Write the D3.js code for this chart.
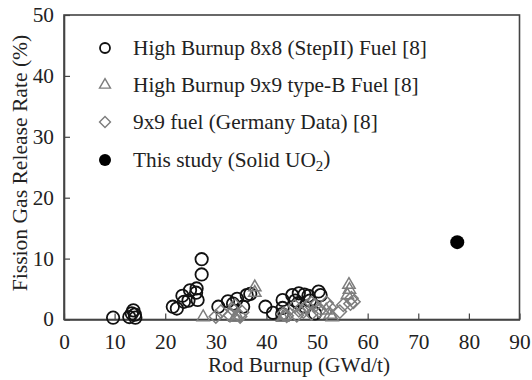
<!DOCTYPE html>
<html>
<head>
<meta charset="utf-8">
<script src="https://cdn.jsdelivr.net/npm/d3@7"></script>
<style>
  html, body { margin: 0; padding: 0; background: #fff; }
  svg { display: block; }
  text { font-family: "Liberation Serif", "Times New Roman", serif; fill: #222; }
</style>
</head>
<body>
<svg id="chart" width="532" height="380"></svg>
<script>
// Tick labels
const xTicks = [0, 10, 20, 30, 40, 50, 60, 70, 80, 90];
const yTicks = [0, 10, 20, 30, 40, 50];

// High Burnup 8x8 (StepII) Fuel [8]
const stepIIBurnup = [9.7, 12.9, 13.7, 14.0, 14.1, 13.4, 21.5, 22.3, 23.4, 23.7, 24.6, 24.9, 26.2, 26.4, 26.1, 27.2, 27.2,
  30.5, 32.4, 33.4, 34.2, 35.4, 36.1, 36.8, 39.8, 41.3, 43.2, 43.2, 43.1, 45.1, 46.4, 45.7, 47.5, 48.3, 48.6, 47.6, 46.3,
  50.3, 50.7, 49.6];
const stepIIFgr = [0.3, 0.4, 1.5, 0.8, 0.3, 1.0, 2.1, 1.8, 3.9, 2.9, 3.1, 4.8, 5.1, 3.2, 4.4, 7.4, 9.9,
  2.1, 3.0, 2.6, 3.4, 2.1, 4.0, 4.2, 2.1, 1.1, 3.2, 1.9, 0.9, 4.0, 4.3, 3.1, 4.1, 3.9, 3.1, 2.1, 2.7,
  4.6, 4.0, 1.0];

// High Burnup 9x9 type-B Fuel [8]
const typeBBurnup = [27.5, 33.8, 34.2, 37.7, 37.7, 43.2, 43.6, 51.8, 52.6, 53.0, 56.3, 56.4, 56.0];
const typeBFgr = [0.4, 0.3, 0.6, 5.3, 4.4, 0.3, 0.6, 1.5, 0.8, 0.4, 5.7, 4.9, 4.0];

// 9x9 fuel (Germany Data) [8]
const germanyBurnup = [30.0, 31.0, 32.8, 33.4, 33.8, 34.8, 35.2, 43.3, 44.0, 45.6, 46.0, 46.4, 47.3, 48.0, 48.9, 48.9,
  49.6, 50.4, 51.9, 52.5, 54.5, 55.2, 56.6, 56.8, 57.2];
const germanyFgr = [0.5, 1.3, 0.7, 1.6, 2.3, 0.5, 1.2, 0.9, 0.6, 2.2, 0.7, 1.5, 1.3, 2.2, 1.0, 2.7,
  2.3, 1.4, 2.7, 2.0, 1.3, 2.4, 2.6, 3.5, 2.9];

// This study (Solid UO2)
const studyBurnup = [77.7];
const studyFgr = [12.7];

const svg = d3.select("#chart");
const plotLeft = 64, plotRight = 519.5, plotTop = 15, plotBottom = 319.5;
const fontSize = 20;
const stretch = 1.065; // all text is set slightly wide

const x = d3.scaleLinear().domain([0, 90]).range([plotLeft, plotRight]);
const y = d3.scaleLinear().domain([0, 50]).range([plotBottom, plotTop]);

const axisColor = "#444";

// Frame
svg.append("rect")
  .attr("x", plotLeft).attr("y", plotTop)
  .attr("width", plotRight - plotLeft).attr("height", plotBottom - plotTop)
  .attr("fill", "none").attr("stroke", axisColor).attr("stroke-width", 1.6);

// Axes with inward ticks
const gx = svg.append("g")
  .attr("transform", `translate(0,${plotBottom})`)
  .call(d3.axisBottom(x).tickValues(xTicks).tickSizeInner(-6).tickSizeOuter(0).tickPadding(15));
const gy = svg.append("g")
  .attr("transform", `translate(${plotLeft},0)`)
  .call(d3.axisLeft(y).tickValues(yTicks).tickSizeInner(-6).tickSizeOuter(0).tickPadding(10));

[gx, gy].forEach(g => {
  g.attr("font-family", null).attr("font-size", null);
  g.select(".domain").attr("stroke", axisColor).attr("stroke-width", 1.6);
  g.selectAll(".tick line").attr("stroke", axisColor).attr("stroke-width", 1.2);
  g.selectAll(".tick text")
    .attr("font-size", fontSize).attr("fill", "#222");
});
gx.selectAll(".tick text").attr("transform", `scale(${stretch},1)`);
gy.selectAll(".tick text").attr("x", -10 / stretch).attr("transform", `scale(${stretch},1)`);

// Axis titles
svg.append("text")
  .attr("transform", `translate(299,372) scale(${stretch},1)`)
  .attr("text-anchor", "middle").attr("font-size", fontSize)
  .text("Rod Burnup (GWd/t)");
svg.append("text")
  .attr("transform", `translate(27,163) rotate(-90) scale(1.08,1)`)
  .attr("text-anchor", "middle").attr("font-size", fontSize)
  .text("Fission Gas Release Rate (%)");

const markGrey = "#7d7d7d";
const triangle = d3.symbol().type(d3.symbolTriangle);
const square = d3.symbol().type(d3.symbolSquare);

// Data marks
const plot = svg.append("g");

plot.selectAll("circle.stepII")
  .data(d3.zip(stepIIBurnup, stepIIFgr))
  .join("circle").attr("class", "stepII")
  .attr("cx", d => x(d[0])).attr("cy", d => y(d[1])).attr("r", 6.2)
  .attr("fill", "none").attr("stroke", "#111").attr("stroke-width", 1.8);

plot.selectAll("path.typeB")
  .data(d3.zip(typeBBurnup, typeBFgr))
  .join("path").attr("class", "typeB")
  .attr("d", triangle.size(66)())
  .attr("transform", d => `translate(${x(d[0])},${y(d[1])})`)
  .attr("fill", "none").attr("stroke", markGrey).attr("stroke-width", 1.5);

plot.selectAll("path.germany")
  .data(d3.zip(germanyBurnup, germanyFgr))
  .join("path").attr("class", "germany")
  .attr("d", square.size(88)())
  .attr("transform", d => `translate(${x(d[0])},${y(d[1])}) rotate(45)`)
  .attr("fill", "none").attr("stroke", markGrey).attr("stroke-width", 1.5);

plot.selectAll("circle.study")
  .data(d3.zip(studyBurnup, studyFgr))
  .join("circle").attr("class", "study")
  .attr("cx", d => x(d[0])).attr("cy", d => y(d[1])).attr("r", 7)
  .attr("fill", "#000");

// Legend
const legendX = 105, legendTextX = 133;
const legendRows = [48, 85, 122, 160];
const legend = svg.append("g");

legend.append("circle").attr("cx", legendX).attr("cy", legendRows[0]).attr("r", 5)
  .attr("fill", "none").attr("stroke", "#111").attr("stroke-width", 1.8);
legend.append("path").attr("d", triangle.size(52)())
  .attr("transform", `translate(${legendX},${legendRows[1]})`)
  .attr("fill", "none").attr("stroke", markGrey).attr("stroke-width", 1.4);
legend.append("path").attr("d", square.size(60)())
  .attr("transform", `translate(${legendX},${legendRows[2]}) rotate(45)`)
  .attr("fill", "none").attr("stroke", markGrey).attr("stroke-width", 1.4);
legend.append("circle").attr("cx", legendX).attr("cy", legendRows[3]).attr("r", 6)
  .attr("fill", "#000");

const labels = [
  "High Burnup 8x8 (StepII) Fuel [8]",
  "High Burnup 9x9 type-B Fuel [8]",
  "9x9 fuel (Germany Data) [8]"
];
labels.forEach((t, i) => {
  legend.append("text")
    .attr("transform", `translate(${legendTextX},${legendRows[i]}) scale(${stretch},1)`)
    .attr("dy", "0.35em").attr("font-size", fontSize).text(t);
});
const studyLabel = legend.append("text")
  .attr("transform", `translate(${legendTextX},${legendRows[3]}) scale(${stretch},1)`)
  .attr("dy", "0.35em").attr("font-size", fontSize);
studyLabel.append("tspan").text("This study (Solid UO");
studyLabel.append("tspan").attr("font-size", 14).attr("dy", "0.3em").text("2");
studyLabel.append("tspan").attr("dy", "-0.3em").text(")");
</script>
</body>
</html>
